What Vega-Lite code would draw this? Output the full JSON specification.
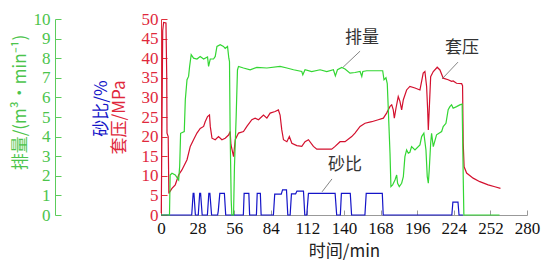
{
  "$schema": "https://vega.github.io/schema/vega-lite/v6.json",
  "width": 366,
  "height": 196,
  "autosize": "none",
  "padding": {"left": 161, "top": 19, "right": 15, "bottom": 47},
  "config": {"view": {"stroke": null}},
  "datasets": {
    "press": [
      {"t":0.2,"v":0.5},{"t":1.3,"v":47},{"t":2,"v":49.1},{"t":3.8,"v":49},{"t":4.4,"v":35},{"t":4.6,"v":20.9},{"t":5.5,"v":20},{"t":6,"v":5.5},{"t":6.3,"v":5.7},{"t":8.4,"v":6.8},{"t":10.9,"v":7.7},{"t":13.5,"v":10.2},{"t":16,"v":11.5},{"t":19.9,"v":14.1},{"t":22.4,"v":17.5},{"t":24.9,"v":19.2},{"t":27.5,"v":20.9},{"t":30,"v":22.1},{"t":32.6,"v":22.6},{"t":33.8,"v":23.8},{"t":35.6,"v":25.1},{"t":37.1,"v":25.5},{"t":37.7,"v":22.6},{"t":39,"v":19.6},{"t":41.5,"v":19.2},{"t":44,"v":20},{"t":46.6,"v":19.2},{"t":49.1,"v":19.6},{"t":51.7,"v":20.4},{"t":52.9,"v":21.3},{"t":53.5,"v":18},{"t":55.5,"v":14.9},{"t":56.8,"v":19.2},{"t":59.3,"v":20.9},{"t":63.1,"v":21.3},{"t":65.7,"v":22.6},{"t":69.5,"v":24.3},{"t":72,"v":24.7},{"t":74.6,"v":24.3},{"t":78.4,"v":25.5},{"t":81,"v":24.7},{"t":83.5,"v":26},{"t":87.3,"v":26.4},{"t":89.8,"v":26.8},{"t":91.1,"v":25.5},{"t":92.4,"v":21.7},{"t":93.7,"v":19.2},{"t":96.3,"v":18.7},{"t":98.2,"v":20},{"t":100.1,"v":18.3},{"t":103.9,"v":17.7},{"t":107.7,"v":17.5},{"t":110.2,"v":18.7},{"t":112.8,"v":19.2},{"t":116.6,"v":17.5},{"t":119.2,"v":16.8},{"t":124.2,"v":16.8},{"t":130.6,"v":16.8},{"t":133.2,"v":17.5},{"t":137,"v":18.7},{"t":140.8,"v":18.7},{"t":145.9,"v":20},{"t":148.4,"v":20.9},{"t":152.3,"v":22.6},{"t":156.1,"v":23.4},{"t":161.2,"v":23.8},{"t":166.2,"v":24.3},{"t":170.1,"v":24.7},{"t":172.6,"v":26},{"t":175.2,"v":27.7},{"t":176.5,"v":28.1},{"t":177.7,"v":26.8},{"t":178.5,"v":24.7},{"t":179.8,"v":27.3},{"t":181.5,"v":30.2},{"t":182.8,"v":29},{"t":184.1,"v":26.8},{"t":185.4,"v":29.4},{"t":187.9,"v":31.9},{"t":190.4,"v":32.8},{"t":194.3,"v":32.4},{"t":198.1,"v":31.9},{"t":200.6,"v":36.2},{"t":201.9,"v":36.6},{"t":203.2,"v":32.8},{"t":204,"v":26.8},{"t":204.5,"v":21.7},{"t":205.2,"v":26.8},{"t":206.3,"v":35.3},{"t":208.3,"v":36.6},{"t":210.8,"v":37.5},{"t":211.3,"v":37.7},{"t":213.4,"v":37},{"t":215.9,"v":34.9},{"t":219.7,"v":34.5},{"t":222.3,"v":34.1},{"t":223.5,"v":34.2},{"t":226.1,"v":33.6},{"t":230,"v":33.5},{"t":230.7,"v":33},{"t":231.2,"v":18.3},{"t":231.9,"v":12.3},{"t":233.8,"v":10.7},{"t":238.8,"v":9.4},{"t":243.9,"v":8.5},{"t":250.3,"v":7.7},{"t":255.4,"v":7.2},{"t":259.7,"v":6.8}
    ],
    "rate": [
      {"t":0,"v":0},{"t":6.5,"v":0},{"t":7,"v":2.04},{"t":8.4,"v":2.13},{"t":10.9,"v":2.04},{"t":13.5,"v":1.79},{"t":14.3,"v":2.5},{"t":15,"v":4.17},{"t":17.8,"v":4.26},{"t":18.6,"v":5.88},{"t":19.9,"v":6.9},{"t":21.1,"v":7.07},{"t":21.9,"v":7.58},{"t":23.1,"v":8.18},{"t":24.9,"v":8.0},{"t":27.5,"v":7.96},{"t":30,"v":8.09},{"t":32.6,"v":7.96},{"t":35.6,"v":8.06},{"t":36.4,"v":7.58},{"t":37.7,"v":7.96},{"t":40.2,"v":7.96},{"t":41.5,"v":8.09},{"t":42.8,"v":8.6},{"t":45.3,"v":8.69},{"t":47.8,"v":8.6},{"t":49.1,"v":8.5},{"t":50.9,"v":8.6},{"t":51.9,"v":8.0},{"t":52.4,"v":7.83},{"t":52.9,"v":4.17},{"t":53.7,"v":0.77},{"t":54.2,"v":0},{"t":55.5,"v":0},{"t":56.2,"v":2.47},{"t":57.5,"v":5.02},{"t":58.5,"v":7.4},{"t":59.3,"v":7.58},{"t":63.1,"v":7.5},{"t":68.2,"v":7.41},{"t":73.3,"v":7.53},{"t":81,"v":7.5},{"t":91.1,"v":7.58},{"t":96.3,"v":7.5},{"t":101.4,"v":7.41},{"t":107.7,"v":7.32},{"t":108.5,"v":7.15},{"t":110.2,"v":7.41},{"t":115.3,"v":7.32},{"t":121.7,"v":7.41},{"t":126.8,"v":7.32},{"t":131.9,"v":7.41},{"t":133.4,"v":7.1},{"t":135,"v":7.41},{"t":138.3,"v":7.53},{"t":140.8,"v":7.45},{"t":144.6,"v":7.24},{"t":148.4,"v":7.27},{"t":152.3,"v":7.32},{"t":153.6,"v":7.07},{"t":154.4,"v":7.32},{"t":157.4,"v":7.36},{"t":162.4,"v":7.36},{"t":169.6,"v":7.36},{"t":170.6,"v":6.9},{"t":172.1,"v":7.0},{"t":173.1,"v":6.7},{"t":173.9,"v":5.37},{"t":175.2,"v":3.15},{"t":175.9,"v":1.45},{"t":177.2,"v":1.53},{"t":179,"v":1.79},{"t":180.3,"v":2.04},{"t":181,"v":1.62},{"t":182.3,"v":1.45},{"t":184.1,"v":1.62},{"t":185.4,"v":1.96},{"t":186.6,"v":2.98},{"t":187.9,"v":3.32},{"t":189.2,"v":3.15},{"t":190.4,"v":3.2},{"t":191.7,"v":3.49},{"t":194.3,"v":3.32},{"t":198.1,"v":3.58},{"t":199.4,"v":4.0},{"t":201.1,"v":4.17},{"t":202.7,"v":3.32},{"t":203.7,"v":1.96},{"t":204.5,"v":1.62},{"t":205.2,"v":2.3},{"t":206.3,"v":3.66},{"t":207,"v":4.17},{"t":208.3,"v":3.49},{"t":210.8,"v":4.09},{"t":214.7,"v":4.26},{"t":215.9,"v":4.51},{"t":218,"v":4.68},{"t":219.7,"v":5.37},{"t":221,"v":5.53},{"t":222.3,"v":5.62},{"t":223.5,"v":5.45},{"t":226.1,"v":5.53},{"t":228.6,"v":5.62},{"t":230.4,"v":5.66},{"t":231.2,"v":1.96},{"t":231.7,"v":0},{"t":259,"v":0}
    ],
    "sand": [
      {"t":0,"v":0},{"t":23.5,"v":0},{"t":24.6,"v":5.5},{"t":25.2,"v":5.5},{"t":26.3,"v":0},{"t":28.5,"v":0},{"t":29.6,"v":5.5},{"t":30.3,"v":5.5},{"t":31.5,"v":0},{"t":35.5,"v":0},{"t":36.6,"v":5.5},{"t":37.4,"v":5.5},{"t":38.7,"v":0},{"t":43.3,"v":0},{"t":43.8,"v":1.0},{"t":45,"v":5.5},{"t":48.5,"v":5.5},{"t":49.5,"v":0},{"t":63,"v":0},{"t":63.6,"v":5.5},{"t":67.2,"v":5.5},{"t":67.8,"v":0},{"t":73,"v":0},{"t":73.6,"v":5.5},{"t":76,"v":5.5},{"t":76.6,"v":0},{"t":86,"v":0},{"t":87,"v":5.3},{"t":92,"v":5.3},{"t":93,"v":6.4},{"t":96,"v":6.4},{"t":97,"v":0},{"t":98.8,"v":0},{"t":99.8,"v":5.4},{"t":103,"v":5.4},{"t":104,"v":6.1},{"t":109,"v":6.1},{"t":110,"v":0},{"t":111.5,"v":0},{"t":112.8,"v":5.5},{"t":133.2,"v":5.5},{"t":134.4,"v":0},{"t":137.2,"v":0},{"t":138,"v":5.5},{"t":144.8,"v":5.5},{"t":145.8,"v":0},{"t":156,"v":0},{"t":157,"v":5.5},{"t":169.3,"v":5.5},{"t":170,"v":0},{"t":222.5,"v":0},{"t":223.3,"v":3.3},{"t":227.2,"v":3.3},{"t":228,"v":0},{"t":231,"v":0}
    ],
    "labels": [
      {"t":153.8,"v":45.1,"label":"排量"},
      {"t":230.3,"v":42.6,"label":"套压"},
      {"t":140.8,"v":12.75,"label":"砂比"}
    ],
    "leaders": [
      {"t":152.3,"v":41.8,"t2":139.3,"v2":37.7},
      {"t":227.2,"v":39,"t2":215,"v2":34.7},
      {"t":130.8,"v":9.2,"t2":123.2,"v2":5.9}
    ]
  },
  "encoding": {
    "x": {
      "field": "t", "type": "quantitative",
      "scale": {"domain": [0, 280], "nice": false},
      "axis": {
        "values": [0,28,56,84,112,140,168,196,224,252,280],
        "title": "时间/min", "titleFont": "Noto Sans CJK SC", "titleFontSize": 17, "titleFontWeight": "normal", "titleColor": "#222",
        "titleY": 36, "titleBaseline": "middle",
        "labelFont": "Liberation Serif", "labelFontSize": 17, "labelColor": "#111", "labelPadding": 10,
        "domainColor": "#999", "tickColor": "#999", "tickSize": -5, "grid": false, "labelFlush": false
      }
    }
  },
  "layer": [
    {
      "data": {"name": "press"},
      "mark": {"type": "line", "color": "#d3102e", "strokeWidth": 1.2},
      "encoding": {
        "y": {
          "field": "v", "type": "quantitative",
          "scale": {"domain": [0, 50], "nice": false},
          "axis": {
            "orient": "left", "values": [0,5,10,15,20,25,30,35,40,45,50],
            "domainColor": "#e0303c", "tickColor": "#e0303c", "tickSize": -6,
            "labelColor": "#e0283c", "labelFont": "Liberation Serif", "labelFontSize": 17, "labelPadding": 9,
            "grid": false, "labelFlush": false,
            "title": "套压/MPa", "titleColor": "#e0283c", "titleFont": "Noto Sans CJK SC", "titleFontSize": 17, "titleFontWeight": "normal",
            "titleAngle": -90, "titleX": -42, "titleY": 98, "titleAlign": "center", "titleBaseline": "middle"
          }
        }
      }
    },
    {
      "data": {"name": "sand"},
      "mark": {"type": "line", "color": "#1414c8", "strokeWidth": 1.2},
      "encoding": {
        "y": {
          "field": "v", "type": "quantitative",
          "scale": {"domain": [0, 50], "nice": false},
          "axis": {
            "orient": "left", "domain": false, "ticks": false, "labels": false, "grid": false,
            "title": "砂比/%", "titleColor": "#1414c8", "titleFont": "Noto Sans CJK SC", "titleFontSize": 17, "titleFontWeight": "normal",
            "titleAngle": -90, "titleX": -60, "titleY": 89, "titleAlign": "center", "titleBaseline": "middle"
          }
        }
      }
    },
    {
      "data": {"name": "rate"},
      "mark": {"type": "line", "color": "#33d633", "strokeWidth": 1.2},
      "encoding": {
        "y": {
          "field": "v", "type": "quantitative",
          "scale": {"domain": [0, 10], "nice": false},
          "axis": {
            "orient": "left", "offset": 106, "values": [0,1,2,3,4,5,6,7,8,9,10],
            "domainColor": "#5ccc5c", "tickColor": "#5ccc5c", "tickSize": -6,
            "labelColor": "#4cc44c", "labelFont": "Liberation Serif", "labelFontSize": 17, "labelPadding": 11,
            "grid": false, "labelFlush": false,
            "title": "排量/(m³•min⁻¹)", "titleColor": "#4cc44c", "titleFont": "Noto Sans CJK SC", "titleFontSize": 17, "titleFontWeight": "normal",
            "titleAngle": -90, "titleX": -35, "titleY": 83, "titleAlign": "center", "titleBaseline": "middle"
          }
        }
      }
    },
    {
      "data": {"name": "leaders"},
      "mark": {"type": "rule", "color": "#666", "strokeWidth": 0.8},
      "encoding": {
        "x2": {"field": "t2"},
        "y": {"field": "v", "type": "quantitative", "scale": {"domain": [0, 50], "nice": false}, "axis": null},
        "y2": {"field": "v2"}
      }
    },
    {
      "data": {"name": "labels"},
      "mark": {"type": "text", "font": "Noto Sans CJK SC", "fontSize": 17, "color": "#333", "align": "center", "baseline": "middle"},
      "encoding": {
        "y": {"field": "v", "type": "quantitative", "scale": {"domain": [0, 50], "nice": false}, "axis": null},
        "text": {"field": "label"}
      }
    }
  ],
  "resolve": {"scale": {"y": "independent"}, "axis": {"y": "independent"}}
}
